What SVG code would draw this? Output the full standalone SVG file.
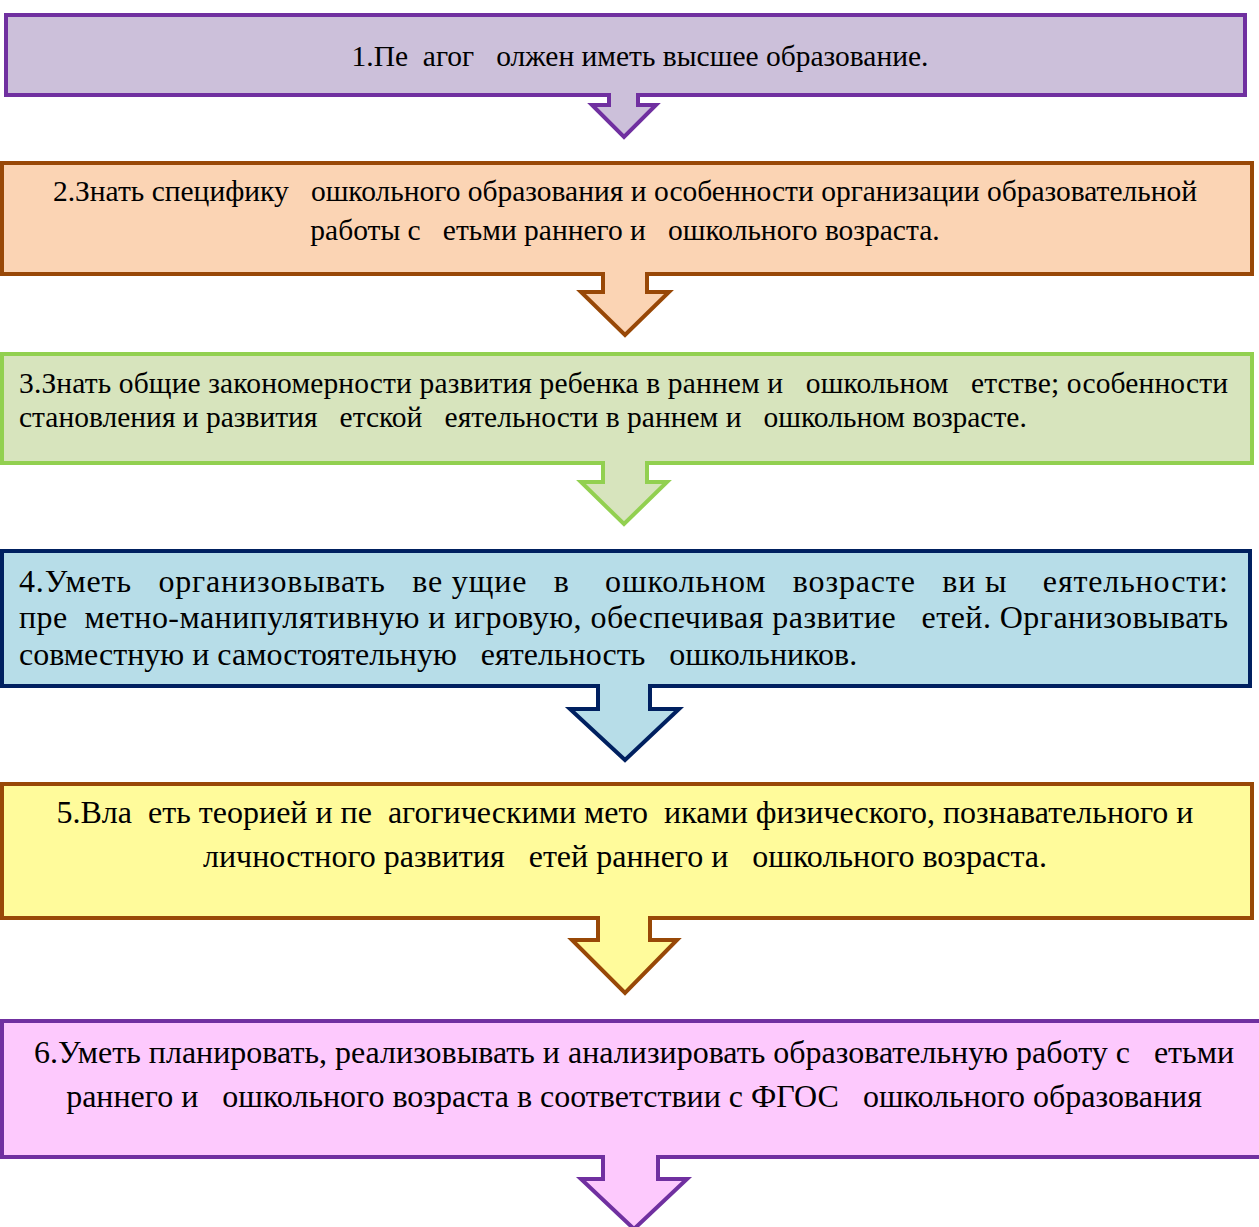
<svg xmlns="http://www.w3.org/2000/svg" width="1259" height="1227" viewBox="0 0 1259 1227">
<style>
.t{font-family:"Liberation Serif","Times New Roman",serif;font-size:29.5px;fill:#000;white-space:pre}
.b{font-size:32px}
.c{text-anchor:middle}
.s{stroke-width:4;stroke-linejoin:miter}
</style>
<rect width="1259" height="1227" fill="#fff"/>
<g id="connectors"></g>
<g id="node1">
<path class="s" fill="#CCC0DA" stroke="#7030A0" d="M6,15 H1245 V95 H638 V105 H656 L624,137 L592,105 H609 V95 H6 Z"/>
<text class="t c" x="640" y="66">1.Пе  агог   олжен иметь высшее образование.</text>
</g>
<g id="node2">
<path class="s" fill="#FBD4B4" stroke="#984807" d="M2,163 H1252 V274 H647 V292 H669 L625,335 L581,292 H603 V274 H2 Z"/>
<text class="t c" x="625" y="201">2.Знать специфику   ошкольного образования и особенности организации образовательной</text>
<text class="t c" x="625" y="240">работы с   етьми раннего и   ошкольного возраста.</text>
</g>
<g id="node3">
<path class="s" fill="#D7E4BD" stroke="#92D050" d="M2,354 H1252 V463 H647 V482 H667 L624,524 L581,482 H603 V463 H2 Z"/>
<text class="t" x="19" y="393" textLength="1209" lengthAdjust="spacing">3.Знать общие закономерности развития ребенка в раннем и   ошкольном   етстве; особенности</text>
<text class="t" x="19" y="427">становления и развития   етской   еятельности в раннем и   ошкольном возрасте.</text>
</g>
<g id="node4">
<path class="s" fill="#B7DDE8" stroke="#002060" d="M2,551 H1250 V686 H650 V709 H679 L625,760 L570,709 H598 V686 H2 Z"/>
<text class="t b" x="19" y="592" textLength="1209" lengthAdjust="spacing">4.Уметь   организовывать   ве ущие   в    ошкольном   возрасте   ви ы    еятельности:</text>
<text class="t b" x="19" y="628" textLength="1209" lengthAdjust="spacing">пре  метно-манипулятивную и игровую, обеспечивая развитие   етей. Организовывать</text>
<text class="t b" x="19" y="665">совместную и самостоятельную   еятельность   ошкольников.</text>
</g>
<g id="node5">
<path class="s" fill="#FFFB9B" stroke="#984807" d="M2,784 H1252 V918 H650 V940 H677 L625,993 L572,940 H598 V918 H2 Z"/>
<text class="t b c" x="625" y="823">5.Вла  еть теорией и пе  агогическими мето  иками физического, познавательного и</text>
<text class="t b c" x="625" y="867">личностного развития   етей раннего и   ошкольного возраста.</text>
</g>
<g id="node6">
<path class="s" fill="#FDC9FD" stroke="#7030A0" d="M2,1021 H1262 V1157 H658 V1179 H687 L634,1229 L581,1179 H603 V1157 H2 Z"/>
<text class="t b c" x="634" y="1063">6.Уметь планировать, реализовывать и анализировать образовательную работу с   етьми</text>
<text class="t b c" x="634" y="1107">раннего и   ошкольного возраста в соответствии с ФГОС   ошкольного образования</text>
</g>
</svg>
